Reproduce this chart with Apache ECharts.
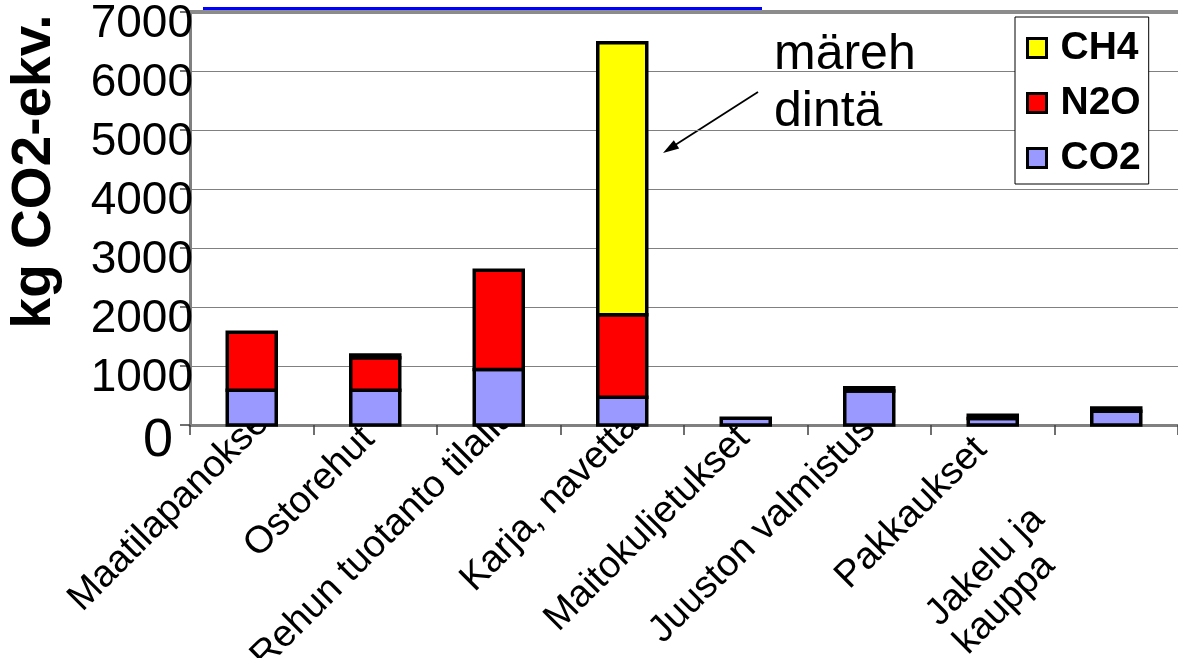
<!DOCTYPE html>
<html>
<head>
<meta charset="utf-8">
<script src="https://cdn.jsdelivr.net/npm/echarts@6/dist/echarts.min.js"></script>
<style>html,body{margin:0;padding:0;background:#fff}#c{width:1178px;height:658px}</style>
</head>
<body>
<div id="c"></div>
<script>
const categories = ['Maatilapanokset', 'Ostorehut', 'Rehun tuotanto tilalla', 'Karja, navetta', 'Maitokuljetukset', 'Juuston valmistus', 'Pakkaukset', 'Jakelu ja\nkauppa'];
const co2Values = [590, 590, 940, 470, 115, 575, 110, 235];
const n2oValues = [980, 550, 1685, 1400, null, 55, 55, 55];
const ch4Values = [null, 45, null, 4610, null, null, null, null];
const yTicks = { min: 0, max: 7000, interval: 1000 };
const yAxisTitle = 'kg CO2-ekv.';
const annotationText = 'märeh\ndintä';

const FONT = '"Liberation Sans", Arial, sans-serif';
const LABEL_FS = 38;
// per-label placement nudges (padding top / padding right) to mimic the original layout
const labelPad = [[61, 4], [59, 39], [51, 10], [64, 17], [64, 35], [54, 27], [66, 50], [112, 146]];

const rich = {};
const ctx = document.createElement('canvas').getContext('2d');
ctx.font = LABEL_FS + 'px ' + FONT;
const xData = categories.map(function (c, i) {
  const lines = c.split('\n');
  if (lines.length === 1) {
    rich['l' + i] = { fontFamily: FONT, fontSize: LABEL_FS, color: '#000', lineHeight: 40, padding: [labelPad[i][0], labelPad[i][1], 0, 0] };
    return c;
  }
  const w0 = ctx.measureText(lines[0]).width;
  lines.forEach(function (ln, k) {
    const diff = Math.max(0, w0 - ctx.measureText(ln).width);
    rich['m' + i + '_' + k] = { fontFamily: FONT, fontSize: LABEL_FS, color: '#000', lineHeight: 40, padding: [0, diff, 0, 0] };
  });
  return { value: c, textStyle: { padding: [labelPad[i][0], labelPad[i][1], 0, 0] } };
});

function labelFormatter(value, index) {
  const lines = String(value).split('\n');
  if (lines.length === 1) return '{l' + index + '|' + value + '}';
  return lines.map(function (ln, k) { return '{m' + index + '_' + k + '|' + ln + '}'; }).join('\n');
}

// stacked segments: [categoryIndex, base, value]
const stackOrder = [co2Values, n2oValues, ch4Values];
function segments(level) {
  const out = [];
  categories.forEach(function (c, i) {
    let base = 0;
    for (let k = 0; k < level; k++) base += stackOrder[k][i] || 0;
    const v = stackOrder[level][i];
    if (v != null) out.push([i, base, base + v]);
  });
  return out;
}

const BAR_W = 49;
function gasSeries(name, level, color) {
  return {
    name: name, type: 'custom', data: segments(level),
    encode: { x: 0, y: 2 },
    itemStyle: { color: color, borderColor: '#000', borderWidth: 3 },
    renderItem: function (params, api) {
      const i = api.value(0);
      const p0 = api.coord([i, api.value(1)]);
      const p1 = api.coord([i, api.value(2)]);
      return {
        type: 'rect',
        shape: { x: p0[0] - BAR_W / 2, y: p1[1], width: BAR_W, height: p0[1] - p1[1] },
        style: { fill: color, stroke: '#000', lineWidth: 3.5 }
      };
    },
    emphasis: { disabled: true }
  };
}

const chart = echarts.init(document.getElementById('c'), null, { renderer: 'canvas' });

chart.setOption({
  animation: false,
  backgroundColor: '#fff',
  grid: { left: 190, right: 0, top: 12, bottom: 233, containLabel: false, outerBoundsMode: 'none' },
  legend: {
    data: ['CH4', 'N2O', 'CO2'],
    orient: 'vertical', left: 1015, top: 17,
    padding: [11, 8, 6, 11],
    itemWidth: 19, itemHeight: 19, itemGap: 15,
    icon: 'rect',
    itemStyle: { borderColor: '#000', borderWidth: 3 },
    textStyle: { fontFamily: FONT, fontSize: 39, fontWeight: 'bold', color: '#000', lineHeight: 40, padding: [0, 0, 0, 9] },
    borderColor: '#000', borderWidth: 1, backgroundColor: '#fff'
  },
  xAxis: [{
    type: 'category', data: xData,
    axisLine: { lineStyle: { color: '#808080', width: 3 } },
    axisTick: { show: true, length: 10, lineStyle: { color: '#404040', width: 1.5 } },
    axisLabel: { interval: 0, rotate: 45, margin: -40, fontFamily: FONT, fontSize: LABEL_FS, color: '#000', formatter: labelFormatter, rich: rich }
  }, {
    type: 'category', data: categories, position: 'top',
    axisLine: { onZero: false, lineStyle: { color: '#8c8c8c', width: 4 } },
    axisTick: { show: false }, axisLabel: { show: false }
  }],
  yAxis: {
    type: 'value', min: yTicks.min, max: yTicks.max, interval: yTicks.interval,
    name: yAxisTitle, nameLocation: 'middle', nameRotate: 90, nameGap: 128,
    nameTextStyle: { fontFamily: FONT, fontSize: 55, fontWeight: 'bold', color: '#000', padding: [0, 0, 0, 94] },
    axisLine: { show: true, lineStyle: { color: '#808080', width: 3 } },
    axisTick: { show: true, length: 10, lineStyle: { color: '#404040', width: 1.5 } },
    splitLine: { lineStyle: { color: '#808080', width: 1 } },
    axisLabel: {
      margin: -3, fontFamily: FONT, color: '#000', padding: [24, 0, 0, 0],
      formatter: function (v) { return v === 0 ? '{z|0}' : '{n|' + v + '}'; },
      rich: {
        n: { fontFamily: FONT, fontSize: 46, color: '#000' },
        z: { fontFamily: FONT, fontSize: 54, color: '#000', padding: [8, 20, 0, 0] }
      }
    }
  },
  series: [
    gasSeries('CO2', 0, '#9999ff'),
    gasSeries('N2O', 1, '#ff0000'),
    gasSeries('CH4', 2, '#ffff00')
  ],
  graphic: [
    { type: 'rect', shape: { x: 203, y: 7, width: 559, height: 3 }, style: { fill: '#0000ff' }, silent: true },
    { type: 'text', x: 774, y: 27, style: { text: annotationText, font: '50px ' + FONT, fill: '#000', lineHeight: 57, verticalAlign: 'top' }, silent: true },
    { type: 'line', shape: { x1: 758, y1: 92, x2: 672, y2: 147 }, style: { stroke: '#000', lineWidth: 1.8 }, silent: true },
    { type: 'polygon', shape: { points: [[663, 153], [679.2, 148.6], [673.8, 140.2]] }, style: { fill: '#000' }, silent: true }
  ]
});
</script>
</body>
</html>
